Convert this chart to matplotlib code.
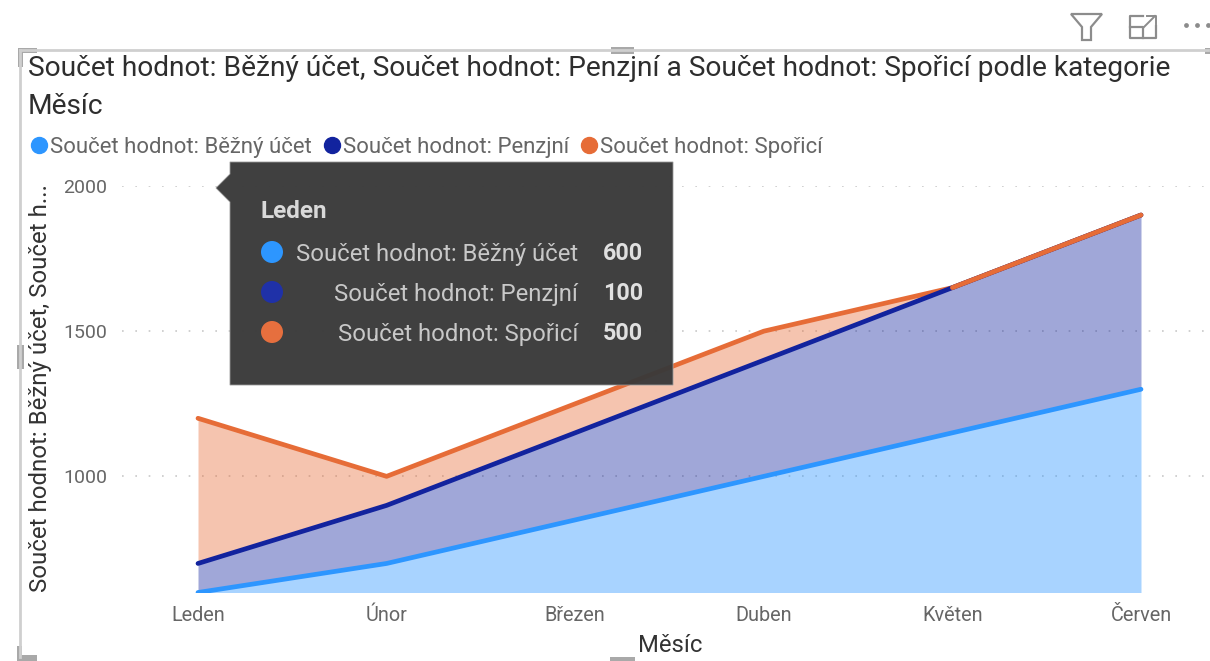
import matplotlib
matplotlib.use('Agg')
import matplotlib.pyplot as plt
from matplotlib.lines import Line2D
from matplotlib.patches import Polygon, Rectangle, Circle

plt.rcParams['font.family'] = ['Roboto', 'DejaVu Sans']

months = ['Leden', 'Únor', 'Březen', 'Duben', 'Květen', 'Červen']
bezny = [600, 700, 850, 1000, 1150, 1300]
penzijni = [700, 900, 1150, 1400, 1650, 1900]
sporici = [1200, 1000, 1250, 1500, 1650, 1900]
yticks = [1000, 1500, 2000]
series_names = ['Součet hodnot: Běžný účet', 'Součet hodnot: Penzjní', 'Součet hodnot: Spořicí']
tooltip_vals = ['600', '100', '500']
title_txt = ('Součet hodnot: Běžný účet, Součet hodnot: Penzjní a Součet hodnot: Spořicí podle kategorie\nMěsíc')

c_blue = '#2D96FF'
c_navy = '#12239E'
c_orange = '#E66C37'

W, H = 1210, 661
fig = plt.figure(figsize=(W / 100, H / 100), dpi=100)

# plot area in pixels, grid runs on past the last point like in the report
left, right, top, bottom = 122, 1210, 186, 592.5
ax = fig.add_axes([left / W, 1 - bottom / H, (right - left) / W, (bottom - top) / H])
step = (1141 - 198) / 5
ax.set_xlim((left - 198) / step, 5 + (right - 1141) / step)
ax.set_ylim(600, 2000)
xs = list(range(len(months)))
base = [600] * len(months)

ax.fill_between(xs, base, bezny, color=c_blue, alpha=0.41, lw=0, zorder=2)
ax.fill_between(xs, bezny, penzijni, color=c_navy, alpha=0.4, lw=0, zorder=2)
ax.fill_between(xs, penzijni, sporici, color=c_orange, alpha=0.4, lw=0, zorder=2)
ax.plot(xs, sporici, color=c_orange, lw=3.4, zorder=3, solid_capstyle='round')
ax.plot(xs, penzijni, color=c_navy, lw=3.4, zorder=3.1, solid_capstyle='round')
# the last two navy points sit under the orange line in the report
ax.plot(xs[4:], sporici[4:], color=c_orange, lw=3.4, zorder=3.2, solid_capstyle='round')
ax.plot(xs, bezny, color=c_blue, lw=3.4, zorder=3.3, solid_capstyle='round')

ax.set_yticks(yticks)
ax.set_xticks(xs)
ax.set_xticklabels(months)
ax.tick_params(axis='both', length=0, labelcolor='#666666')
ax.tick_params(axis='x', pad=9.5, labelsize=14.3)
ax.tick_params(axis='y', pad=10.8, labelsize=14)
ax.grid(axis='y', color='#C8C8C8', lw=1.2, linestyle=(0, (1, 7)), zorder=1)
ax.set_axisbelow(True)
for s in ax.spines.values():
    s.set_visible(False)

# overlay in pixel coords for the report chrome and tooltip
ov = fig.add_axes([0, 0, 1, 1], zorder=5)
ov.set_xlim(0, W)
ov.set_ylim(H, 0)
ov.axis('off')
ov.patch.set_alpha(0)

ov.text(28, 69, title_txt.split('\n')[0], fontsize=20.25, color='#2E2E2E', va='center')
ov.text(28, 107, title_txt.split('\n')[1], fontsize=20.25, color='#2E2E2E', va='center')
ov.text(41, 388.5, 'Součet hodnot: Běžný účet, Součet h...', rotation=90, fontsize=17.3,
        color='#333333', ha='center', va='center')
ov.text(670, 645, 'Měsíc', fontsize=17.2, color='#333333', ha='center', va='center')

handles = [Line2D([], [], ls='', marker='o', ms=11.5, color=c, label=n)
           for c, n in zip([c_blue, c_navy, c_orange], series_names)]
ov.legend(handles=handles, ncol=3, frameon=False, loc='center left', bbox_to_anchor=(28 / W, 1 - 147 / H),
          bbox_transform=fig.transFigure, fontsize=15.95, labelcolor='#666666', handletextpad=0.0,
          columnspacing=0.4, handlelength=1.0, borderpad=0, borderaxespad=0)

# frame and selection handles
grey = '#CFCFCF'
ov.plot([20, 20], [50, 657], color=grey, lw=2)
ov.plot([20, 1208], [50, 50], color=grey, lw=2)
hg = '#A9A9A9'
ov.add_patch(Polygon([(18, 48), (37, 48), (37, 53), (23, 53), (23, 67), (18, 67)], color=hg, lw=0))
ov.add_patch(Rectangle((611, 47), 23, 7, color=hg, lw=0))
ov.add_patch(Rectangle((17, 345), 7, 24, color=hg, lw=0))
ov.add_patch(Polygon([(17, 646), (22, 646), (22, 655), (37, 655), (37, 661), (17, 661)], color=hg, lw=0))
ov.add_patch(Rectangle((610, 657), 25, 4, color=hg, lw=0))
ov.add_patch(Rectangle((1205, 48), 5, 6, color=hg, lw=0))

# toolbar icons
ic = '#8C8C8C'
ov.add_patch(Polygon([(1071, 14), (1102, 14), (1091, 27), (1091, 40), (1082, 40), (1082, 27)],
                     fill=False, ec=ic, lw=1.6))
ov.plot([1143, 1130, 1130, 1156, 1156], [16, 16, 38, 38, 26], color=ic, lw=1.6)
ov.plot([1130, 1143, 1143], [27, 27, 38], color=ic, lw=1.6)
ov.plot([1144, 1155], [27, 16], color=ic, lw=1.4)
ov.plot([1147, 1156, 1156], [16, 16, 24], color=ic, lw=1.4)
ov.scatter([1186, 1197, 1208], [25, 25, 25], s=12, color=ic, lw=0)

# tooltip
tip = '#3A3A3A'
ov.add_patch(Polygon([(230, 162), (673, 162), (673, 385), (230, 385), (230, 202), (216, 188), (230, 174)],
                     facecolor=tip, edgecolor='#9A9A9A', lw=0.6, alpha=0.97))
ov.text(261, 212, months[0], fontsize=17.5, fontweight='bold', color='#D9D9D9', va='center')
for i, (name, val, col) in enumerate(zip(series_names, tooltip_vals, [c_blue, '#1F31A8', '#E66F3E'])):
    y = 254 + i * 40
    ov.add_patch(Circle((272, y - 2), 11, color=col, lw=0))
    ov.text(578, y, name, fontsize=17.2, color='#C8C8C8', ha='right', va='center')
    ov.text(603, y, val, fontsize=16.8, fontweight='bold', color='#E0E0E0', ha='left', va='center')

fig.savefig('out.png', dpi=100)
